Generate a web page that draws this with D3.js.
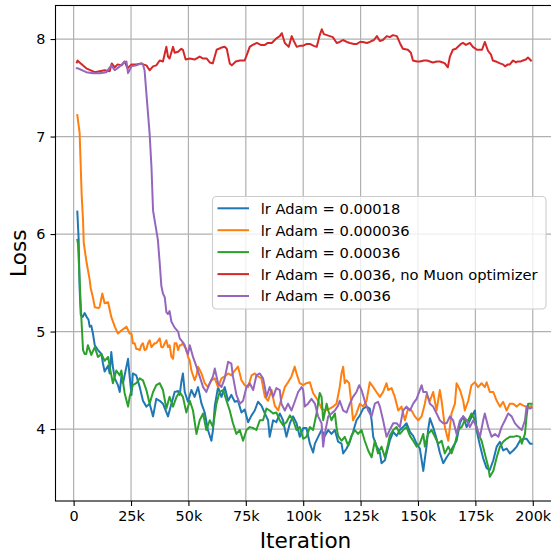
<!DOCTYPE html>
<html><head><meta charset="utf-8">
<script src="https://cdn.jsdelivr.net/npm/d3@7"></script>
<style>body{margin:0;background:#fff}svg{display:block}text{font-family:"DejaVu Sans",sans-serif}</style>
</head><body>
<script>
// ---- data (iterations in thousands) ----
const seriesLabels = ["lr Adam = 0.00018","lr Adam = 0.000036","lr Adam = 0.00036","lr Adam = 0.0036, no Muon optimizer","lr Adam = 0.0036"];
const seriesColors = ["#1f77b4","#ff7f0e","#2ca02c","#d62728","#9467bd"];
const xTickValues = [0,25000,50000,75000,100000,125000,150000,175000,200000];
const xTickLabels = ["0","25k","50k","75k","100k","125k","150k","175k","200k"];
const yTickValues = [4,5,6,7,8];

const blueIter = [1.6,2.2,2.6,3.1,3.9,4.8,5.7,6.5,7.0,7.7,8.4,9.2,10.6,12.1,12.8,13.5,15.0,15.7,16.4,17.1,17.9,19.3,20.1,20.8,21.5,23.0,23.7,24.4,25.2,25.8,27.3,28.8,30.2,31.7,33.1,34.6,36.0,37.5,38.9,41.1,42.6,44.0,45.5,46.2,46.9,47.6,48.4,49.8,51.3,52.7,54.2,55.7,57.1,58.5,60.0,60.7,61.5,62.9,64.4,65.8,67.3,68.7,70.2,71.6,73.1,74.5,76.0,77.5,78.9,80.3,81.8,83.3,84.7,85.4,86.9,88.3,89.8,91.2,92.7,94.2,95.6,97.1,98.5,100.0,101.4,102.9,104.3,105.1,106.5,108.0,109.4,110.9,112.3,113.8,115.2,116.7,117.4,118.9,120.3,121.7,123.2,124.7,126.1,127.6,129.0,129.8,130.5,131.9,133.4,134.1,135.6,136.3,137.7,139.2,140.7,142.1,143.5,145.0,146.5,147.9,149.4,150.8,151.6,152.3,153.7,154.4,155.2,156.6,158.1,159.5,161.0,162.5,163.9,165.3,166.8,168.3,169.7,171.2,172.6,174.1,174.8,175.5,177.0,178.4,179.9,181.3,182.8,184.3,185.7,187.1,188.6,190.0,191.5,193.0,194.4,195.9,197.3,198.8,199.5];
const blueLoss = [6.23,5.94,5.45,5.17,5.15,5.19,5.15,5.12,5.05,5.06,4.98,4.86,4.81,4.77,4.67,4.59,4.65,4.57,4.79,4.64,4.52,4.45,4.38,4.54,4.47,4.64,4.72,4.54,4.35,4.57,4.55,4.43,4.29,4.23,4.26,4.13,4.31,4.29,4.26,4.13,4.26,4.38,4.39,4.35,4.48,4.57,4.38,4.28,4.40,4.33,4.43,4.26,4.17,3.99,3.88,3.99,4.24,4.43,4.33,4.43,4.29,4.35,4.28,4.29,4.17,4.20,4.07,4.14,4.19,4.28,4.24,4.16,4.09,3.92,4.09,4.07,4.16,4.09,3.92,4.06,4.13,4.06,3.92,4.01,4.01,3.85,3.76,3.85,3.92,3.99,3.93,3.99,3.95,3.99,3.87,3.85,3.75,3.80,3.87,3.97,4.09,4.14,4.21,4.23,4.21,4.09,3.92,3.83,3.76,3.65,3.68,3.75,3.88,3.97,3.93,3.99,4.02,4.06,3.97,3.93,3.85,3.80,3.68,3.57,3.82,3.99,4.11,4.02,3.90,3.76,3.65,3.71,3.76,3.82,3.88,4.06,4.13,4.02,4.09,4.16,4.19,3.99,3.83,3.70,3.60,3.58,3.68,3.82,3.87,3.78,3.80,3.75,3.78,3.82,3.88,3.90,3.90,3.85,3.85];

const orangeIter = [1.6,2.6,3.5,4.1,4.4,5.5,5.7,7.0,7.4,8.4,9.2,10.9,11.3,12.5,13.5,15.0,16.4,17.9,19.3,20.8,23.0,24.4,25.2,25.8,26.6,27.3,28.0,28.8,29.5,30.2,30.9,31.7,32.4,33.1,33.9,35.3,36.0,37.5,38.2,38.9,39.7,40.4,41.1,41.8,42.6,43.3,44.0,44.8,45.5,46.2,46.9,47.6,48.4,49.1,49.8,50.6,51.3,52.7,53.5,54.2,55.7,57.1,58.5,60.0,61.5,62.9,64.4,65.8,67.3,68.7,70.2,71.6,73.1,74.5,76.0,77.5,78.9,80.3,81.8,83.3,84.7,86.2,87.6,89.1,90.5,92.0,93.4,94.9,96.3,97.1,98.5,100.0,101.4,102.9,104.3,106.5,108.0,109.4,111.6,113.0,114.5,115.9,116.7,117.4,118.1,118.9,120.0,121.0,121.7,123.2,124.7,126.1,127.6,129.0,130.5,131.9,133.4,134.8,136.3,137.0,138.5,139.9,141.4,142.8,144.3,145.7,147.2,148.6,150.1,151.6,153.0,153.7,155.2,156.6,158.1,159.5,160.3,161.7,163.2,164.6,166.1,166.8,168.3,169.7,170.4,171.9,173.3,174.8,176.2,177.7,179.1,179.9,181.3,182.8,184.3,185.7,187.1,188.6,190.0,191.5,193.0,194.4,195.9,197.3,198.8,199.5];
const orangeLoss = [7.22,7.04,6.40,6.14,5.91,5.73,5.70,5.53,5.45,5.35,5.25,5.24,5.25,5.39,5.29,5.30,5.15,5.05,4.98,5.01,5.05,4.98,4.98,4.88,4.88,4.82,4.82,4.81,4.86,4.88,4.81,4.82,4.88,4.91,4.84,4.88,4.88,4.93,4.84,4.84,4.88,4.91,4.84,4.86,4.74,4.72,4.88,4.88,4.81,4.86,4.86,4.88,4.84,4.82,4.74,4.70,4.60,4.50,4.55,4.64,4.57,4.47,4.43,4.50,4.52,4.43,4.52,4.54,4.57,4.55,4.60,4.64,4.50,4.45,4.43,4.55,4.57,4.54,4.52,4.33,4.29,4.40,4.24,4.19,4.31,4.43,4.48,4.54,4.64,4.57,4.47,4.45,4.47,4.48,4.37,4.29,4.21,4.19,4.21,4.23,4.26,4.43,4.57,4.64,4.47,4.50,4.47,4.26,4.09,4.16,4.26,4.23,4.29,4.48,4.43,4.38,4.33,4.38,4.47,4.40,4.42,4.33,4.19,4.23,4.09,4.21,4.19,4.13,4.09,4.13,4.26,4.35,4.29,4.38,4.19,4.40,4.29,4.02,3.88,4.16,4.26,4.47,4.40,4.29,4.19,4.29,4.45,4.48,4.43,4.47,4.43,4.48,4.38,4.38,4.29,4.23,4.28,4.19,4.26,4.26,4.23,4.26,4.24,4.23,4.23,4.24];

const greenIter = [1.6,1.9,3.4,4.1,4.8,5.5,6.2,7.7,9.2,10.6,12.1,13.5,15.0,15.7,17.1,18.6,20.1,20.8,22.2,23.7,24.4,25.8,27.3,28.8,30.2,31.7,33.1,34.6,36.0,37.5,38.9,40.4,41.8,43.3,44.8,46.2,47.6,49.1,50.6,52.0,53.5,54.9,56.4,57.8,59.3,60.7,62.2,63.6,65.1,66.6,68.0,69.4,70.9,72.4,73.8,75.3,76.7,78.2,79.6,81.1,82.5,84.0,85.4,86.9,88.3,89.8,91.2,92.7,94.2,95.6,97.1,98.5,100.0,101.4,102.9,104.3,105.8,107.2,108.0,108.7,110.2,110.9,112.3,113.8,114.5,115.2,116.7,118.1,119.6,121.0,122.5,123.9,125.4,126.8,128.3,129.8,131.2,132.6,134.1,135.6,137.0,137.7,139.2,140.7,142.1,143.5,145.0,146.5,147.9,149.4,150.8,152.3,153.0,154.4,155.9,157.4,158.8,160.3,161.7,163.2,164.6,166.1,167.5,169.0,170.4,171.9,173.3,174.8,176.2,177.7,179.1,180.6,181.3,182.8,184.3,185.7,187.1,188.6,190.0,191.5,193.0,194.4,195.2,196.6,197.3,198.0,199.5];
const greenLoss = [5.94,5.90,5.12,4.81,4.77,4.77,4.86,4.76,4.84,4.74,4.77,4.70,4.74,4.64,4.47,4.60,4.55,4.60,4.37,4.23,4.33,4.45,4.47,4.52,4.50,4.40,4.26,4.38,4.45,4.47,4.40,4.21,4.33,4.23,4.33,4.38,4.33,4.17,4.29,4.19,3.95,4.09,4.16,3.99,4.09,4.02,4.26,4.38,4.40,4.29,4.19,4.06,3.95,3.99,3.88,3.99,4.02,4.01,3.99,4.09,4.09,4.21,4.19,4.16,4.17,4.09,4.04,4.07,4.14,4.09,3.99,4.02,3.90,3.92,4.02,3.99,4.16,4.37,4.33,4.09,4.26,4.19,4.09,4.16,4.02,3.93,3.88,3.92,3.83,3.93,3.99,3.95,3.99,3.88,3.78,3.71,3.88,3.75,3.82,3.71,3.85,3.93,3.99,4.02,3.95,3.99,4.02,3.93,3.88,3.82,3.85,3.95,3.82,3.95,3.99,3.92,3.85,3.88,3.75,3.82,3.75,3.85,3.99,4.02,4.09,4.09,4.16,4.09,3.95,3.88,3.75,3.61,3.51,3.57,3.71,3.82,3.87,3.90,3.92,3.92,3.93,3.92,3.85,3.95,4.13,4.26,4.26];

const redIter = [1.4,1.7,2.6,5.5,9.2,11.3,13.5,15.7,16.6,17.9,19.2,20.9,22.2,23.5,25.2,27.3,29.5,30.2,31.7,33.1,34.6,36.0,37.5,38.9,40.4,41.1,41.8,43.3,44.0,45.5,46.9,47.6,48.8,50.6,52.7,54.9,56.4,58.0,59.3,60.6,62.3,64.1,65.8,66.7,68.0,68.9,70.6,72.4,74.5,75.8,76.7,78.0,79.8,81.5,83.3,84.6,86.3,87.6,88.5,89.8,90.7,92.0,93.7,95.0,95.9,97.2,98.5,99.8,101.6,102.9,104.6,105.9,107.2,108.1,109.0,110.3,112.9,114.6,115.9,117.3,119.0,120.3,122.1,123.4,124.7,126.0,127.7,129.0,130.8,132.1,133.4,134.7,136.4,137.7,139.1,140.8,142.1,143.4,145.6,146.9,147.8,149.5,150.8,152.6,153.9,155.2,156.5,158.2,159.5,160.8,161.7,163.0,163.9,165.2,166.5,167.4,168.7,169.6,170.9,172.6,173.9,175.7,177.9,179.1,180.5,181.8,182.6,183.9,185.7,187.0,187.9,189.2,190.0,191.4,192.7,193.5,194.8,195.7,197.0,197.9,198.8,199.2];
const redLoss = [7.76,7.78,7.76,7.70,7.66,7.67,7.68,7.67,7.75,7.71,7.74,7.73,7.77,7.70,7.74,7.74,7.75,7.74,7.73,7.68,7.72,7.73,7.78,7.77,7.92,7.82,7.80,7.92,7.86,7.87,7.90,7.89,7.79,7.80,7.79,7.82,7.80,7.80,7.76,7.75,7.89,7.91,7.92,7.90,7.75,7.73,7.77,7.78,7.78,7.86,7.92,7.94,7.96,7.94,7.94,7.96,7.96,7.99,8.01,8.03,8.06,7.96,7.92,8.03,7.98,7.92,7.93,7.93,7.95,7.95,7.93,7.92,8.04,8.10,8.05,8.04,8.02,7.96,7.97,7.99,7.97,7.96,7.95,7.95,7.97,7.97,7.96,7.97,7.99,8.03,7.98,7.99,8.03,8.02,8.04,8.03,7.96,7.90,7.89,7.86,7.78,7.77,7.77,7.78,7.78,7.77,7.76,7.77,7.77,7.76,7.75,7.71,7.82,7.89,7.90,7.92,7.95,7.96,7.94,7.96,7.92,7.89,7.89,7.97,7.88,7.84,7.78,7.77,7.75,7.74,7.72,7.74,7.74,7.78,7.76,7.77,7.77,7.78,7.79,7.81,7.79,7.78];

const purpleIter = [1.4,1.9,5.5,8.4,11.3,14.3,16.4,17.9,20.1,21.5,23.0,23.7,25.2,27.3,29.5,30.2,30.9,31.7,33.1,33.9,34.6,36.0,36.7,37.5,38.2,38.9,39.7,40.4,41.1,41.8,42.6,44.0,45.5,46.2,46.9,47.6,48.4,49.1,49.8,50.6,52.0,53.5,54.9,56.4,57.8,59.3,60.7,61.5,62.9,64.4,65.8,67.3,68.7,69.4,70.9,72.4,73.8,75.3,76.7,78.2,79.6,81.1,82.5,83.3,84.0,85.4,86.9,88.3,89.8,90.5,92.0,93.4,94.9,96.3,97.8,99.3,100.0,100.7,102.1,103.6,105.1,106.5,108.0,108.7,109.4,110.9,112.3,113.8,115.2,115.9,117.4,118.9,120.3,121.7,123.2,124.4,125.4,126.8,128.3,129.8,131.2,132.6,133.4,134.8,136.3,137.7,139.2,140.7,142.1,143.5,145.0,146.5,147.9,149.4,150.8,151.6,152.3,153.7,155.2,156.6,158.1,159.5,161.0,162.5,163.9,165.3,166.8,168.3,169.7,171.2,172.6,174.1,175.5,177.0,178.4,179.1,180.6,182.1,183.5,185.0,186.4,187.9,189.3,190.8,192.2,193.7,195.2,196.6,197.3,198.8,199.5];
const purpleLoss = [7.70,7.70,7.66,7.65,7.65,7.66,7.73,7.68,7.72,7.75,7.77,7.65,7.72,7.73,7.75,7.74,7.68,7.44,7.03,6.69,6.24,6.04,5.94,5.70,5.47,5.39,5.35,5.20,5.18,5.21,5.10,5.04,5.00,4.93,4.91,4.89,4.86,4.80,4.77,4.86,4.74,4.64,4.54,4.43,4.38,4.47,4.54,4.62,4.47,4.43,4.52,4.69,4.67,4.54,4.35,4.26,4.29,4.43,4.47,4.40,4.55,4.57,4.52,4.43,4.33,4.43,4.33,4.42,4.40,4.26,4.19,4.26,4.19,4.28,4.38,4.43,4.40,4.23,4.26,4.31,4.26,4.13,4.06,3.82,3.95,4.13,4.16,4.19,4.24,4.29,4.19,4.17,4.26,4.33,4.38,4.45,4.40,4.29,4.19,4.13,4.26,4.28,4.23,4.09,3.92,3.99,4.06,4.06,4.02,4.19,4.23,4.19,4.26,4.31,4.40,4.45,4.38,4.38,4.26,4.23,4.16,4.09,4.06,4.06,4.13,4.09,3.95,4.09,4.13,4.09,4.02,4.09,4.02,3.92,4.09,4.16,4.02,3.92,3.95,3.92,4.02,4.09,4.16,4.13,4.06,4.02,3.99,4.09,4.23,4.21,4.22];

const seriesIters = [blueIter, orangeIter, greenIter, redIter, purpleIter];
const seriesLosses = [blueLoss, orangeLoss, greenLoss, redLoss, purpleLoss];

// ---- chart ----
const W = 551, H = 552;
const L = 55.5, R = 555.5, T = 5.5, B = 501;
const svg = d3.select("body").append("svg").attr("width", W).attr("height", H);

const x = d3.scaleLinear().domain([-7900, 209900]).range([L, R]);
const y = d3.scaleLinear().domain([3.262, 8.344]).range([B, T]);

svg.append("defs").append("clipPath").attr("id","clip")
  .append("rect").attr("x", L).attr("y", T).attr("width", R - L).attr("height", B - T);

// grid
const grid = svg.append("g");
grid.selectAll(".gx").data(xTickValues).join("line")
  .attr("x1", d => x(d)).attr("x2", d => x(d)).attr("y1", T).attr("y2", B)
  .attr("stroke", "#b0b0b0").attr("stroke-width", 1.2);
grid.selectAll(".gy").data(yTickValues).join("line")
  .attr("x1", L).attr("x2", R).attr("y1", d => y(d)).attr("y2", d => y(d))
  .attr("stroke", "#b0b0b0").attr("stroke-width", 1.2);

// lines
const lineGen = d3.line().x(d => x(d[0] * 1000)).y(d => y(d[1])).curve(d3.curveLinear);
const plot = svg.append("g").attr("clip-path", "url(#clip)");
seriesIters.forEach((its, i) => {
  const pts = its.map((v, j) => [v, seriesLosses[i][j]]);
  plot.append("path").datum(pts).attr("d", lineGen)
    .attr("fill", "none").attr("stroke", seriesColors[i])
    .attr("stroke-width", 2.0).attr("stroke-linejoin", "round").attr("stroke-linecap", "square");
});

// axes
const xAxis = d3.axisBottom(x).tickValues(xTickValues).tickFormat((d, i) => xTickLabels[i]).tickSize(5).tickPadding(5);
const yAxis = d3.axisLeft(y).tickValues(yTickValues).tickFormat(d3.format("d")).tickSize(5).tickPadding(5);
const gx = svg.append("g").attr("transform", `translate(0,${B})`).call(xAxis);
const gy = svg.append("g").attr("transform", `translate(${L},0)`).call(yAxis);
[gx, gy].forEach(g => {
  g.select(".domain").remove();
  g.selectAll(".tick line").attr("stroke", "#000").attr("stroke-width", 1.1);
  g.selectAll(".tick text").attr("font-family", "DejaVu Sans").attr("font-size", 14.4).attr("fill", "#000");
});

// spines
svg.append("rect").attr("x", L).attr("y", T).attr("width", R - L).attr("height", B - T)
  .attr("fill", "none").attr("stroke", "#000").attr("stroke-width", 1.1);

// axis labels
svg.append("text").attr("x", (L + R) / 2).attr("y", 547.5).attr("text-anchor", "middle")
  .attr("font-size", 21.6).attr("fill", "#000").text("Iteration");
svg.append("text").attr("transform", `translate(26,${(T + B) / 2}) rotate(-90)`).attr("text-anchor", "middle")
  .attr("font-size", 21.6).attr("fill", "#000").text("Loss");

// legend
const lg = svg.append("g");
lg.append("rect").attr("x", 212.5).attr("y", 196.5).attr("width", 333.5).attr("height", 112.5)
  .attr("rx", 4).attr("fill", "#fff").attr("fill-opacity", 0.8).attr("stroke", "#cccccc").attr("stroke-width", 1.1);
const rowY = [208.3, 230.2, 252.1, 274.1, 296.0];
seriesLabels.forEach((lab, i) => {
  lg.append("line").attr("x1", 217.5).attr("x2", 249).attr("y1", rowY[i]).attr("y2", rowY[i])
    .attr("stroke", seriesColors[i]).attr("stroke-width", 2.0);
  lg.append("text").attr("x", 260.7).attr("y", rowY[i] + 5.4).attr("font-size", 14.7).attr("fill", "#000").text(lab);
});
</script>
</body></html>
